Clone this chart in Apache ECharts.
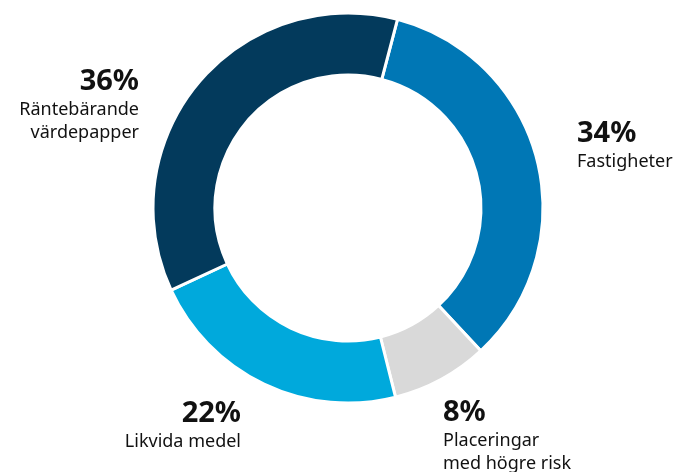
<!DOCTYPE html>
<html>
<head>
<meta charset="utf-8">
<script src="https://cdn.jsdelivr.net/npm/echarts@6/dist/echarts.min.js"></script>
<style>
html,body{margin:0;padding:0;background:#fff;}
#chart{width:683px;height:472px;}
</style>
</head>
<body>
<div id="chart"></div>
<script>
// andelar, medurs från toppen
var names = ['Fastigheter', 'Placeringar\nmed högre risk', 'Likvida medel', 'Räntebärande\nvärdepapper'];
var values = [34, 8, 22, 36];
var colors = ['#0077b5', '#d9d9d9', '#00a9dc', '#033a5c'];

// etikettplacering (x, y, justering) per segment
var labelPos = [
	{x: 577, y: 118, align: 'left'},
	{x: 443, y: 397, align: 'left'},
	{x: 241, y: 398, align: 'right'},
	{x: 139, y: 66, align: 'right'}
];

var myChart = echarts.init(document.getElementById('chart'));

var data = [];
for (var i = 0; i < values.length; i++) {
	data.push({value: values[i], name: names[i], itemStyle: {color: colors[i]}});
}

var option = {
	animation: false,
	series: [{
		type: 'pie',
		center: [348, 208],
		radius: [133, 195],
		startAngle: 75.3,
		clockwise: true,
		data: data,
		itemStyle: {borderColor: '#fff', borderWidth: 3},
		label: {
			show: true,
			position: 'outside',
			overflow: 'none',
			formatter: function (p) {
				var lines = p.name.split('\n');
				var s = '{p|' + p.value + '%}';
				for (var j = 0; j < lines.length; j++) s += '\n{n|' + lines[j] + '}';
				return s;
			},
			rich: {
				p: {fontFamily: 'Noto Sans', fontSize: 29, fontWeight: 'bold', color: '#111', lineHeight: 32},
				n: {fontFamily: 'Noto Sans', fontSize: 18, color: '#111', lineHeight: 23}
			}
		},
		labelLine: {show: false},
		labelLayout: function (params) {
			var lp = labelPos[params.dataIndex];
			return {x: lp.x, y: lp.y, align: lp.align, verticalAlign: 'top'};
		},
		emphasis: {disabled: true}
	}]
};
myChart.setOption(option);
</script>
</body>
</html>
